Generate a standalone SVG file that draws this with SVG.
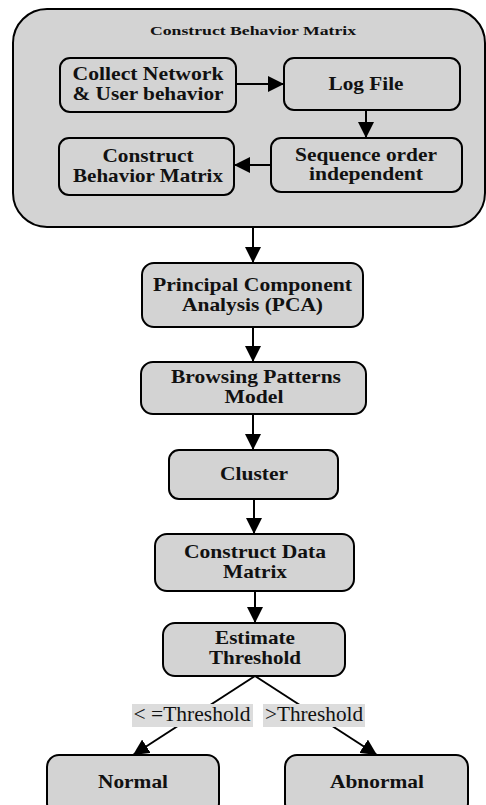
<svg xmlns="http://www.w3.org/2000/svg" width="486" height="805" viewBox="0 0 486 805">
<style>
.box{fill:#d3d3d3;stroke:#000;stroke-width:2}
.t{font-family:"Liberation Serif","Times New Roman",serif;font-weight:bold;font-size:19px;fill:#111;text-anchor:middle}
.ttl{font-size:12.5px}
.lbl{font-family:"Liberation Serif","Times New Roman",serif;font-size:20px;fill:#111;text-anchor:middle}
.lbg{fill:#dcdcdc}
.c{stroke:#000;stroke-width:2;fill:none}
</style>
<defs>
<marker id="a" viewBox="0 0 16 16" refX="16" refY="8" markerWidth="16" markerHeight="16" markerUnits="userSpaceOnUse" orient="auto">
<path d="M0,0 L16,8 L0,16 Z" fill="#000"/>
</marker>
</defs>
<g id="container">
<rect class="box" x="13" y="9" width="472" height="218" rx="34" ry="34"/>
<text class="t ttl" x="253" y="35" textLength="206" lengthAdjust="spacingAndGlyphs">Construct Behavior Matrix</text>
</g>
<g id="collect">
<rect class="box" x="60" y="58" width="176" height="54" rx="10"/>
<text class="t" x="148" y="80" textLength="151" lengthAdjust="spacingAndGlyphs">Collect Network</text>
<text class="t" x="148" y="99.5" textLength="151" lengthAdjust="spacingAndGlyphs">&amp; User behavior</text>
</g>
<g id="logfile">
<rect class="box" x="284" y="58" width="176" height="52" rx="10"/>
<text class="t" x="366" y="90" textLength="75" lengthAdjust="spacingAndGlyphs">Log File</text>
</g>
<g id="sequence">
<rect class="box" x="271" y="138" width="191" height="54" rx="10"/>
<text class="t" x="366" y="161" textLength="142" lengthAdjust="spacingAndGlyphs">Sequence order</text>
<text class="t" x="366" y="180" textLength="114" lengthAdjust="spacingAndGlyphs">independent</text>
</g>
<g id="construct">
<rect class="box" x="59" y="138" width="175" height="57" rx="10"/>
<text class="t" x="148" y="162" textLength="91" lengthAdjust="spacingAndGlyphs">Construct</text>
<text class="t" x="148" y="182" textLength="150" lengthAdjust="spacingAndGlyphs">Behavior Matrix</text>
</g>
<g id="pca">
<rect class="box" x="142" y="263" width="221" height="64" rx="12"/>
<text class="t" x="252.5" y="291" textLength="199" lengthAdjust="spacingAndGlyphs">Principal Component</text>
<text class="t" x="252.5" y="311" textLength="141" lengthAdjust="spacingAndGlyphs">Analysis (PCA)</text>
</g>
<g id="browsing">
<rect class="box" x="141" y="362" width="225" height="52" rx="12"/>
<text class="t" x="256" y="383" textLength="170" lengthAdjust="spacingAndGlyphs">Browsing Patterns</text>
<text class="t" x="254" y="403" textLength="59" lengthAdjust="spacingAndGlyphs">Model</text>
</g>
<g id="cluster">
<rect class="box" x="169" y="450" width="169" height="49" rx="10"/>
<text class="t" x="254" y="480" textLength="68" lengthAdjust="spacingAndGlyphs">Cluster</text>
</g>
<g id="dataMatrix">
<rect class="box" x="155" y="534" width="199" height="57" rx="12"/>
<text class="t" x="255" y="558" textLength="142" lengthAdjust="spacingAndGlyphs">Construct Data</text>
<text class="t" x="255" y="578" textLength="64" lengthAdjust="spacingAndGlyphs">Matrix</text>
</g>
<g id="estimate">
<rect class="box" x="163" y="623" width="182" height="53" rx="12"/>
<text class="t" x="255" y="644" textLength="80" lengthAdjust="spacingAndGlyphs">Estimate</text>
<text class="t" x="255" y="664" textLength="92" lengthAdjust="spacingAndGlyphs">Threshold</text>
</g>
<g id="normal">
<rect class="box" x="47" y="755" width="172" height="60" rx="12"/>
<text class="t" x="133" y="788" textLength="70" lengthAdjust="spacingAndGlyphs">Normal</text>
</g>
<g id="abnormal">
<rect class="box" x="285" y="755" width="183" height="60" rx="12"/>
<text class="t" x="377" y="788" textLength="94" lengthAdjust="spacingAndGlyphs">Abnormal</text>
</g>
<g id="connectors">
<line class="c" x1="236" y1="84" x2="284" y2="84" marker-end="url(#a)"/>
<line class="c" x1="366" y1="110" x2="366" y2="138" marker-end="url(#a)"/>
<line class="c" x1="271" y1="165" x2="234" y2="165" marker-end="url(#a)"/>
<line class="c" x1="253" y1="227" x2="253" y2="263" marker-end="url(#a)"/>
<line class="c" x1="253" y1="327" x2="253" y2="362" marker-end="url(#a)"/>
<line class="c" x1="253" y1="414" x2="253" y2="450" marker-end="url(#a)"/>
<line class="c" x1="254" y1="499" x2="254" y2="534" marker-end="url(#a)"/>
<line class="c" x1="255" y1="591" x2="255" y2="623" marker-end="url(#a)"/>
<line class="c" x1="255" y1="676" x2="133" y2="755" marker-end="url(#a)"/>
<line class="c" x1="255" y1="676" x2="377" y2="755" marker-end="url(#a)"/>
<rect class="lbg" x="132" y="704" width="121" height="23"/>
<text class="lbl" x="192" y="721" textLength="117" lengthAdjust="spacingAndGlyphs">&lt; =Threshold</text>
<rect class="lbg" x="263" y="704" width="102" height="23"/>
<text class="lbl" x="314" y="721" textLength="98" lengthAdjust="spacingAndGlyphs">&gt;Threshold</text>
</g>
</svg>
